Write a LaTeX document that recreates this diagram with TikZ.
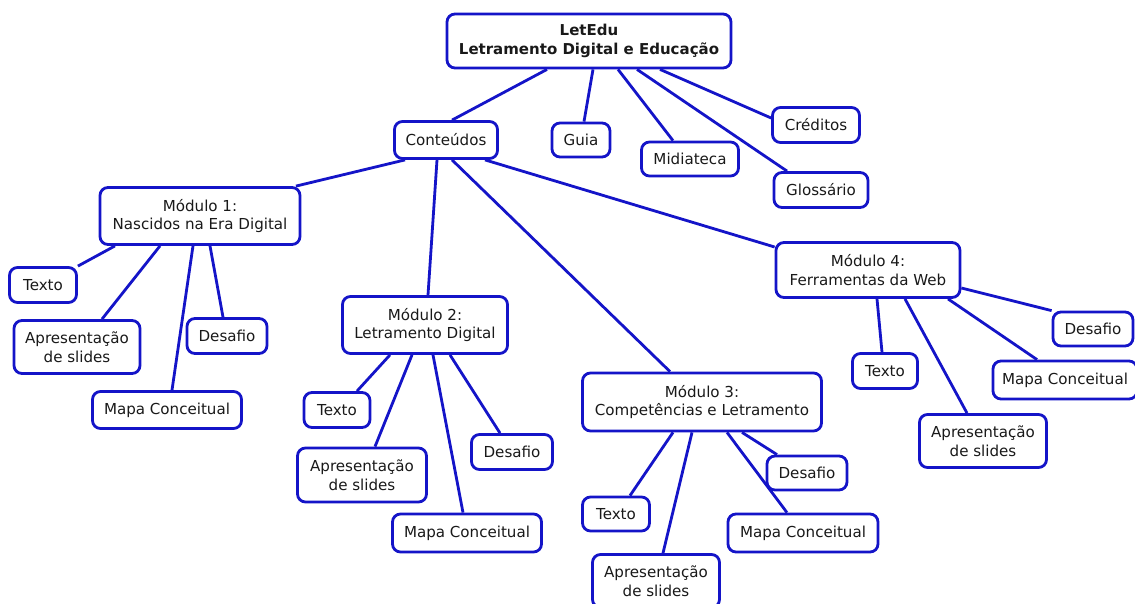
\documentclass[tikz,border=0pt]{standalone}
\usepackage{fontspec}
\setmainfont{DejaVu Sans}
\usetikzlibrary{backgrounds}
\definecolor{cmblue}{RGB}{20,20,200}
\tikzset{
  box/.style={draw=cmblue, line width=2.8pt, rounded corners=8pt, fill=white,
    align=center, inner sep=0pt, font=\fontsize{15.1}{18.8}\selectfont, text=black!90},
  link/.style={draw=cmblue, line width=2.8pt}
}
\begin{document}
\begin{tikzpicture}[x=1pt,y=-1pt]
\clip (0,0) rectangle (1135,604);
% nodes
\node[box, minimum width=284pt, minimum height=54pt, font=\fontsize{15}{18.8}\selectfont\bfseries] (top) at (589,41) {LetEdu\\Letramento Digital e Educação};
\node[box, minimum width=103pt, minimum height=37pt] (cont) at (446,140) {Conteúdos};
\node[box, minimum width=58pt, minimum height=34pt] (guia) at (581,140) {Guia};
\node[box, minimum width=97pt, minimum height=34pt] (midia) at (690,159) {Midiateca};
\node[box, minimum width=87pt, minimum height=35pt] (cred) at (816,125) {Créditos};
\node[box, minimum width=94pt, minimum height=35pt] (glos) at (821,190) {Glossário};
% modulo 1
\node[box, minimum width=200pt, minimum height=57pt] (m1) at (200,216) {Módulo 1:\\Nascidos na Era Digital};
\node[box, minimum width=67pt, minimum height=35pt] (m1t) at (43,285) {Texto};
\node[box, minimum width=126pt, minimum height=53pt] (m1a) at (77,347) {Apresentação\\de slides};
\node[box, minimum width=80pt, minimum height=35pt] (m1d) at (227,336) {Desafio};
\node[box, minimum width=149pt, minimum height=37pt] (m1m) at (167,410) {Mapa Conceitual};
% modulo 2
\node[box, minimum width=165pt, minimum height=57pt] (m2) at (425,325) {Módulo 2:\\Letramento Digital};
\node[box, minimum width=66pt, minimum height=35pt] (m2t) at (337,410) {Texto};
\node[box, minimum width=129pt, minimum height=54pt] (m2a) at (362,475) {Apresentação\\de slides};
\node[box, minimum width=81pt, minimum height=35pt] (m2d) at (512,452) {Desafio};
\node[box, minimum width=149pt, minimum height=38pt] (m2m) at (467,533) {Mapa Conceitual};
% modulo 3
\node[box, minimum width=239pt, minimum height=58pt] (m3) at (702,402) {Módulo 3:\\Competências e Letramento};
\node[box, minimum width=67pt, minimum height=34pt] (m3t) at (616,514) {Texto};
\node[box, minimum width=80pt, minimum height=34pt] (m3d) at (807,473) {Desafio};
\node[box, minimum width=150pt, minimum height=38pt] (m3m) at (803,533) {Mapa Conceitual};
\node[box, minimum width=127pt, minimum height=53pt] (m3a) at (656,581) {Apresentação\\de slides};
% modulo 4
\node[box, minimum width=184pt, minimum height=55pt] (m4) at (868,270) {Módulo 4:\\Ferramentas da Web};
\node[box, minimum width=65pt, minimum height=35pt] (m4t) at (885,371) {Texto};
\node[box, minimum width=80pt, minimum height=34pt] (m4d) at (1093,329) {Desafio};
\node[box, minimum width=144pt, minimum height=38pt] (m4m) at (1065,380) {Mapa Conceitual};
\node[box, minimum width=127pt, minimum height=53pt] (m4a) at (983,441) {Apresentação\\de slides};
% links
\begin{pgfonlayer}{background}
\fill[white] (0,0) rectangle (1135,604);
\draw[link] (top.south -| 547,0) -- (cont.north -| 452,0);
\draw[link] (top.south -| 593,0) -- (guia.north -| 584,0);
\draw[link] (top.south -| 618,0) -- (midia.north -| 673,0);
\draw[link] (top.south -| 637,0) -- (glos.north -| 787,0);
\draw[link] (top.south -| 660,0) -- (cred.west |- 0,118);
\draw[link] (cont.south -| 405,0) -- (m1.north -| 296,0);
\draw[link] (cont.south -| 437,0) -- (m2.north -| 428,0);
\draw[link] (cont.south -| 452,0) -- (m3.north -| 670,0);
\draw[link] (cont.south -| 485,0) -- (m4.west |- 0,247);
\draw[link] (m1.south -| 115,0) -- (m1t.north east);
\draw[link] (m1.south -| 160,0) -- (m1a.north -| 102,0);
\draw[link] (m1.south -| 193,0) -- (m1m.north -| 172,0);
\draw[link] (m1.south -| 210,0) -- (m1d.north -| 223,0);
\draw[link] (m2.south -| 390,0) -- (m2t.north -| 357,0);
\draw[link] (m2.south -| 412,0) -- (m2a.north -| 375,0);
\draw[link] (m2.south -| 433,0) -- (m2m.north -| 463,0);
\draw[link] (m2.south -| 450,0) -- (m2d.north -| 500,0);
\draw[link] (m3.south -| 673,0) -- (m3t.north -| 630,0);
\draw[link] (m3.south -| 692,0) -- (m3a.north -| 663,0);
\draw[link] (m3.south -| 727,0) -- (m3m.north -| 787,0);
\draw[link] (m3.south -| 742,0) -- (m3d.north -| 777,0);
\draw[link] (m4.south -| 877,0) -- (m4t.north -| 882,0);
\draw[link] (m4.south -| 905,0) -- (m4a.north -| 967,0);
\draw[link] (m4.south -| 948,0) -- (m4m.north -| 1037,0);
\draw[link] (m4.east |- 0,288) -- (m4d.north west);
\end{pgfonlayer}
\end{tikzpicture}
\end{document}
